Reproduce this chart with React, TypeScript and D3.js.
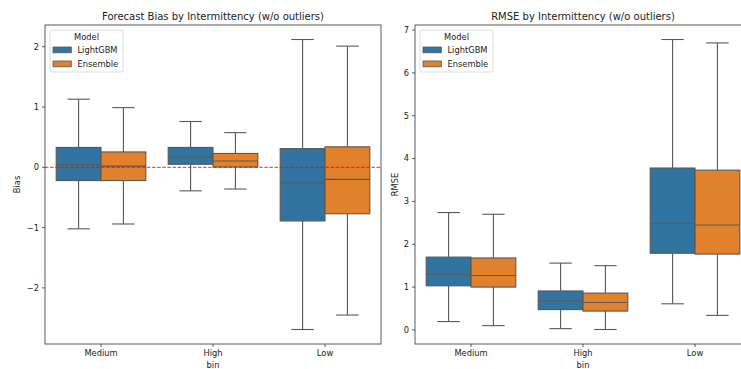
import React from 'react';
import * as d3 from 'd3';

// Category order on the x axis and hue levels
const bins = ['Medium', 'High', 'Low'];
const models = ['LightGBM', 'Ensemble'];
const modelColors = ['#3274a1', '#e1812c'];

// Box stats per bin: [lower whisker, Q1, median, Q3, upper whisker]
const biasLightGBM = [
  [-1.02, -0.22, 0.045, 0.33, 1.13],
  [-0.39, 0.05, 0.17, 0.33, 0.76],
  [-2.69, -0.89, -0.26, 0.31, 2.12],
];
const biasEnsemble = [
  [-0.94, -0.22, 0.02, 0.255, 0.99],
  [-0.36, 0.005, 0.105, 0.23, 0.575],
  [-2.45, -0.77, -0.2, 0.34, 2.01],
];
const rmseLightGBM = [
  [0.195, 1.03, 1.3, 1.7, 2.74],
  [0.03, 0.475, 0.68, 0.91, 1.56],
  [0.61, 1.79, 2.49, 3.78, 6.78],
];
const rmseEnsemble = [
  [0.1, 1.0, 1.27, 1.68, 2.7],
  [0.01, 0.44, 0.64, 0.86, 1.5],
  [0.34, 1.77, 2.45, 3.73, 6.7],
];
const biasTicks = [-2, -1, 0, 1, 2];
const rmseTicks = [0, 1, 2, 3, 4, 5, 6, 7];

const W = 741;
const H = 369;
const top = 25;
const bottom = 344;
const font = 'DejaVu Sans, sans-serif';
const lineColor = '#585858';

type PanelProps = {
  x0: number;
  x1: number;
  title: string;
  ylabel: string;
  labelOffset: number;
  series: number[][][];
  ticks: number[];
  zeroLine?: boolean;
};

const fmt = (v: number) => (v < 0 ? `\u2212${Math.abs(v)}` : `${v}`);

const Panel = ({ x0, x1, title, ylabel, labelOffset, series, ticks, zeroLine }: PanelProps) => {
  // matplotlib-style 5% margins around the whisker extent
  const lo = d3.min(series.flat(), d => d[0]) as number;
  const hi = d3.max(series.flat(), d => d[4]) as number;
  const pad = (hi - lo) * 0.05;
  const y = d3.scaleLinear().domain([lo - pad, hi + pad]).range([bottom, top]);
  const x = d3.scaleBand().domain(bins).range([x0, x1]).padding(0);
  const bw = x.bandwidth();
  const hue = d3.scaleBand().domain(models).range([0, bw * 0.8]).padding(0);
  const boxW = hue.bandwidth();

  return (
    <g>
      <text x={(x0 + x1) / 2} y={20} textAnchor="middle" fontSize={10} fill="#222" fontFamily={font}>
        {title}
      </text>

      {series.map((rows, mi) =>
        rows.map((s, bi) => {
          const left = (x(bins[bi]) as number) + bw * 0.1 + (hue(models[mi]) as number);
          const cx = left + boxW / 2;
          const capHalf = boxW / 4;
          return (
            <g key={`${mi}-${bi}`} stroke={lineColor} strokeWidth={1.1}>
              <line x1={cx} x2={cx} y1={y(s[3])} y2={y(s[4])} />
              <line x1={cx} x2={cx} y1={y(s[1])} y2={y(s[0])} />
              <line x1={cx - capHalf} x2={cx + capHalf} y1={y(s[4])} y2={y(s[4])} />
              <line x1={cx - capHalf} x2={cx + capHalf} y1={y(s[0])} y2={y(s[0])} />
              <rect x={left} y={y(s[3])} width={boxW} height={y(s[1]) - y(s[3])} fill={modelColors[mi]} />
              <line x1={left} x2={left + boxW} y1={y(s[2])} y2={y(s[2])} />
            </g>
          );
        })
      )}

      {zeroLine && (
        <line x1={x0} x2={x1} y1={y(0)} y2={y(0)} stroke="#ff0000" strokeOpacity={0.7}
          strokeWidth={1.2} strokeDasharray="3.5,1.6" />
      )}

      {/* spines */}
      <rect x={x0} y={top} width={x1 - x0} height={bottom - top} fill="none" stroke="#333" strokeWidth={0.8} />

      {/* y ticks */}
      {ticks.map(t => (
        <g key={t}>
          <line x1={x0 - 3} x2={x0} y1={y(t)} y2={y(t)} stroke="#333" strokeWidth={0.8} />
          <text x={x0 - 6} y={y(t)} dy="0.35em" textAnchor="end" fontSize={8.3} fill="#222" fontFamily={font}>
            {fmt(t)}
          </text>
        </g>
      ))}
      <text transform={`translate(${x0 - labelOffset},${(top + bottom) / 2}) rotate(-90)`} textAnchor="middle"
        dy="0.35em" fontSize={8.3} fill="#222" fontFamily={font}>
        {ylabel}
      </text>

      {/* x ticks */}
      {bins.map(b => {
        const cx = (x(b) as number) + bw / 2;
        return (
          <g key={b}>
            <line x1={cx} x2={cx} y1={bottom} y2={bottom + 3} stroke="#333" strokeWidth={0.8} />
            <text x={cx} y={356} textAnchor="middle" fontSize={8.3} fill="#222" fontFamily={font}>
              {b}
            </text>
          </g>
        );
      })}
      <text x={(x0 + x1) / 2} y={368} textAnchor="middle" fontSize={8.3} fill="#222" fontFamily={font}>
        bin
      </text>

      {/* legend */}
      <g transform={`translate(${x0 + 5},30)`}>
        <rect x={0} y={0} width={73} height={42} rx={2} fill="#fff" fillOpacity={0.8} stroke="#d6d6d6" strokeWidth={0.8} />
        <text x={36.5} y={10} textAnchor="middle" fontSize={8.3} fill="#222" fontFamily={font}>
          Model
        </text>
        {models.map((m, i) => (
          <g key={m} transform={`translate(0,${i * 14})`}>
            <rect x={3} y={17} width={18.3} height={5.8} fill={modelColors[i]} stroke={lineColor} strokeWidth={0.8} />
            <text x={27.5} y={23} fontSize={8.3} fill="#222" fontFamily={font}>
              {m}
            </text>
          </g>
        ))}
      </g>
    </g>
  );
};

export default function App() {
  return (
    <div style={{ position: 'fixed', left: 0, top: 0, width: W, height: H, background: '#fff' }}>
      <svg width={W} height={H} style={{ display: 'block' }}>
        <rect width={W} height={H} fill="#fff" />
        <Panel x0={45} x1={381} title="Forecast Bias by Intermittency (w/o outliers)" ylabel="Bias" labelOffset={28}
          series={[biasLightGBM, biasEnsemble]} ticks={biasTicks} zeroLine />
        <Panel x0={415} x1={751} title="RMSE by Intermittency (w/o outliers)" ylabel="RMSE" labelOffset={20}
          series={[rmseLightGBM, rmseEnsemble]} ticks={rmseTicks} />
      </svg>
    </div>
  );
}
